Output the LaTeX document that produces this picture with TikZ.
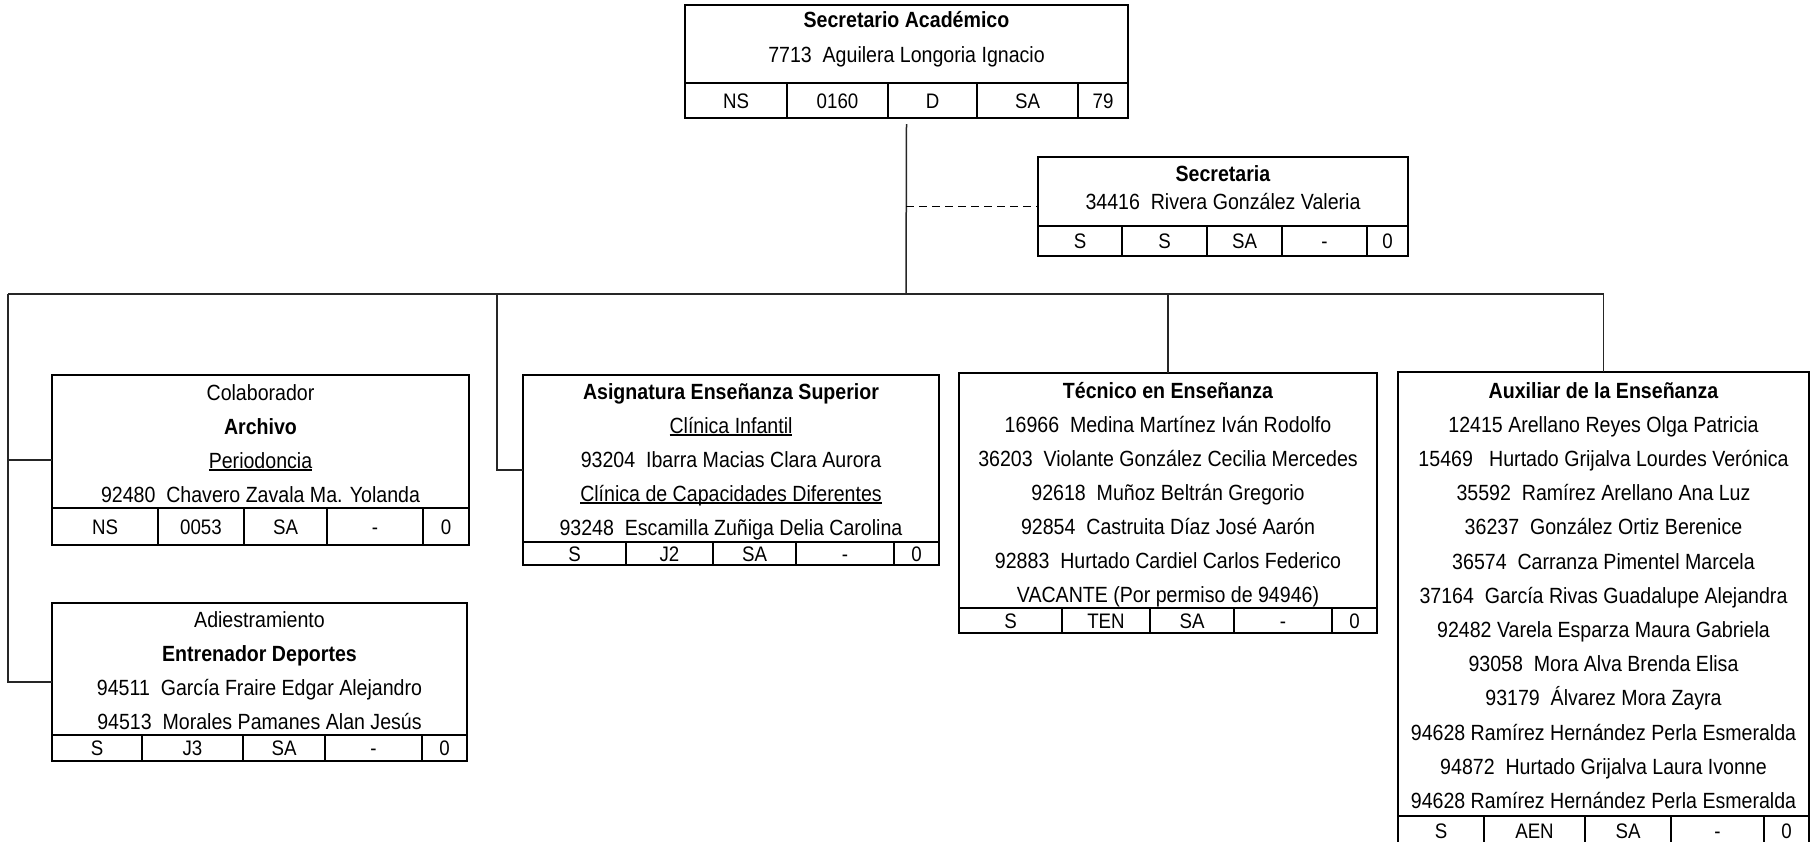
\documentclass[tikz,border=0pt]{standalone}
\usepackage{fontspec}
\setmainfont[FakeStretch=0.89]{Liberation Sans}
\newcommand{\ulx}[1]{\setbox0\hbox{#1}\rlap{\rule[-2.6pt]{\wd0}{1.4pt}}\box0}
\newcommand{\orgbox}[6]{%
  \node[box, anchor=north west, minimum width={#4-#2}, minimum height={#5-#3}] (#1) at (#2,#3) {};
  \draw[tab] (#2,#6) -- (#4,#6);
}
\newcommand{\rowsof}[5]{%
  \foreach \t [count=\i from 0] in {#5} \node[txt] (#1-r\i) at (#2,{#3+\i*#4}) {\t};
}
\newcommand{\cellsof}[4]{%
  \foreach \a/\b/\t [count=\i] in {#4} {
    \node[cell] (#1-c\i) at ({(\a+\b)/2},{(#2+#3)/2}) {\t};
    \ifnum\i<5 \draw[tab] (\b,#2) -- (\b,#3);\fi
  }
}
\begin{document}
\begin{tikzpicture}[x=1pt,y=-1pt,
  box/.style={draw, line width=2.6pt, inner sep=0pt, outer sep=0pt},
  tab/.style={line width=2pt},
  conn/.style={line width=1.5pt, draw=black!85},
  txt/.style={font=\fontsize{22}{26}\selectfont, inner sep=0pt, text height=16pt, text depth=0pt},
  cell/.style={font=\fontsize{21}{25}\selectfont, inner sep=0pt, text height=15pt, text depth=0pt}]
\useasboundingbox (0,0) rectangle (1813,841);
\clip (0,0) rectangle (1813,841);

% boxes
\orgbox{top}{685}{5}{1128}{118}{83}
\rowsof{top}{906.5}{19}{35}{{\textbf{Secretario Académico}},{7713\ \ Aguilera Longoria Ignacio}}
\cellsof{top}{83}{118}{685/787/NS,787/888/0160,888/977/D,977/1078/SA,1078/1128/79}

\orgbox{sec}{1038}{157}{1408}{256}{226}
\rowsof{sec}{1223}{173}{28}{{\textbf{Secretaria}},{34416\ \ Rivera González Valeria}}
\cellsof{sec}{226}{256}{1038/1122/S,1122/1207/S,1207/1282/SA,1282/1367/-,1367/1408/0}

\orgbox{colab}{52}{375}{469}{545}{508}
\rowsof{colab}{260.5}{392}{34}{Colaborador,{\textbf{Archivo}},{\ulx{Periodoncia}},{92480\ \ Chavero Zavala Ma. Yolanda}}
\cellsof{colab}{508}{545}{52/158/NS,158/244/0053,244/327/SA,327/423/-,423/469/0}

\orgbox{adies}{52}{603}{467}{761}{735}
\rowsof{adies}{259.5}{619}{34}{Adiestramiento,{\textbf{Entrenador Deportes}},{94511\ \ García Fraire Edgar Alejandro},{94513\ \ Morales Pamanes Alan Jesús}}
\cellsof{adies}{735}{761}{52/142/S,142/243/J3,243/325/SA,325/422/-,422/467/0}

\orgbox{asig}{523}{375}{939}{565}{542}
\rowsof{asig}{731}{391}{34}{{\textbf{Asignatura Enseñanza Superior}},{\ulx{Clínica Infantil}},{93204\ \ Ibarra Macias Clara Aurora},{\ulx{Clínica de Capacidades Diferentes}},{93248\ \ Escamilla Zuñiga Delia Carolina}}
\cellsof{asig}{542}{565}{523/626/S,626/713/J2,713/796/SA,796/894/-,894/939/0}

\orgbox{tec}{959}{373}{1377}{633}{608}
\rowsof{tec}{1168}{390}{34}{{\textbf{Técnico en Enseñanza}},{16966\ \ Medina Martínez Iván Rodolfo},{36203\ \ Violante González Cecilia Mercedes},{92618\ \ Muñoz Beltrán Gregorio},{92854\ \ Castruita Díaz José Aarón},{92883\ \ Hurtado Cardiel Carlos Federico},{VACANTE (Por permiso de 94946)}}
\cellsof{tec}{608}{633}{959/1062/S,1062/1150/TEN,1150/1234/SA,1234/1332/-,1332/1377/0}

\orgbox{aux}{1398}{372}{1809}{846}{816}
\rowsof{aux}{1603.5}{390}{34.2}{{\textbf{Auxiliar de la Enseñanza}},{12415 Arellano Reyes Olga Patricia},{15469\ \ \ Hurtado Grijalva Lourdes Verónica},{35592\ \ Ramírez Arellano Ana Luz},{36237\ \ González Ortiz Berenice},{36574\ \ Carranza Pimentel Marcela},{37164\ \ García Rivas Guadalupe Alejandra},{92482 Varela Esparza Maura Gabriela},{93058\ \ Mora Alva Brenda Elisa},{93179\ \ Álvarez Mora Zayra},{94628 Ramírez Hernández Perla Esmeralda},{94872\ \ Hurtado Grijalva Laura Ivonne},{94628 Ramírez Hernández Perla Esmeralda}}
\cellsof{aux}{816}{846}{1398/1484/S,1484/1585/AEN,1585/1671/SA,1671/1764/-,1764/1809/0}

% connectors
\coordinate (hub) at (906,294);
\coordinate (busL) at (8,294);
\coordinate (asigdrop) at (497,294);
\coordinate (busR) at (aux.north |- hub);
\draw[conn] ([yshift=-6pt]top.south) -- (hub);
\draw[conn, draw=black, line width=1.8pt, dash pattern=on 8pt off 5pt] (sec.west -| hub) -- (sec.west);
\draw[conn] (busL) -- (busR);
\draw[conn] (busL) |- (adies.west);
\draw[conn] (colab.west -| busL) -- (colab.west);
\draw[conn] (asigdrop) |- (asig.west);
\draw[conn] (tec.north |- hub) -- (tec.north);
\draw[conn] (busR) -- (aux.north);
\end{tikzpicture}
\end{document}
